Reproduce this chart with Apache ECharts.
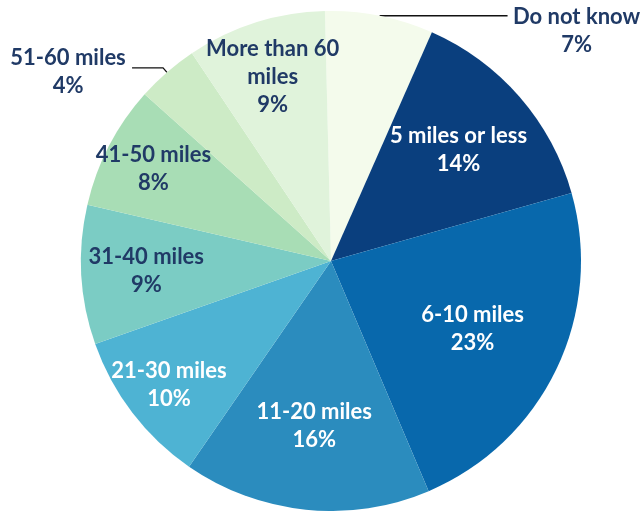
<!DOCTYPE html>
<html>
<head>
<meta charset="utf-8">
<script src="https://cdn.jsdelivr.net/npm/echarts@6/dist/echarts.min.js"></script>
<style>
  html, body { margin: 0; padding: 0; background: #fff; }
  #chart { width: 641px; height: 511px; }
</style>
</head>
<body>
<div id="chart"></div>
<script>
// Distance travelled: share of respondents per band
const categories = ['Do not know', '5 miles or less', '6-10 miles', '11-20 miles', '21-30 miles',
  '31-40 miles', '41-50 miles', '51-60 miles', 'More than 60 miles'];
const shares = [7, 14, 23, 16, 10, 9, 8, 4, 9];
const labelLines = {
  'More than 60 miles': ['More than 60', 'miles']
};

const palette = ['#f4fbec', '#0a3f7e', '#0868ac', '#2b8cbe', '#4eb3d3', '#7bccc4', '#a8ddb5', '#cdebc6', '#e0f3db'];
const lightText = ['5 miles or less', '6-10 miles', '11-20 miles', '21-30 miles'];
const darkInk = '#203a66';
const FONT = 'Lato, "Open Sans", sans-serif';
const FONT_SIZE = 22;
const LINE_HEIGHT = 28;

// outside labels (with leader lines): block width, leader lengths, vertical nudge
const outsideLabels = {
  'Do not know': { width: 128, length: 0, length2: 128, padTop: 30 },
  '51-60 miles': { width: 118, length: 6, length2: 31, padTop: 8 }
};
// inside labels: distance of the label centre from the pie centre
const insideDistance = {
  '5 miles or less': 166, '6-10 miles': 154, '11-20 miles': 163,
  '21-30 miles': 201, '31-40 miles': 182, '41-50 miles': 197, 'More than 60 miles': 190
};

const CENTER = [331, 261];
const RADIUS = 250;
const START = 91.4;

function labelText(name, value) {
  const lines = labelLines[name] || [name];
  return lines.concat([value + '%']);
}

const baseData = categories.map((name, i) => ({ name: name, value: shares[i] }));

const mainSeries = {
  type: 'pie',
  center: CENTER,
  radius: [0, RADIUS],
  startAngle: START,
  clockwise: true,
  silent: true,
  avoidLabelOverlap: false,
  itemStyle: { borderWidth: 0 },
  emphasis: { disabled: true },
  data: baseData.map((d, i) => {
    const cfg = outsideLabels[d.name];
    const item = { name: d.name, value: d.value, itemStyle: { color: palette[i] } };
    if (cfg) {
      item.label = {
        show: true,
        position: 'outside',
        distanceToLabelLine: 5,
        padding: [cfg.padTop, 0, 0, 0],
        formatter: p => labelText(p.name, p.value).map(t => '{c|' + t + '}').join('\n'),
        rich: {
          c: { width: cfg.width, align: 'center', fontFamily: FONT, fontWeight: 'bold',
               fontSize: FONT_SIZE, lineHeight: LINE_HEIGHT, color: darkInk }
        }
      };
      item.labelLine = {
        show: true,
        length: cfg.length,
        length2: cfg.length2,
        smooth: false,
        lineStyle: { color: '#111', width: 1.3 }
      };
    } else {
      item.label = { show: false };
      item.labelLine = { show: false };
    }
    return item;
  })
};

// transparent overlay pies that place the inside labels at chosen radii
const distances = Array.from(new Set(Object.values(insideDistance)));
const labelSeries = distances.map(dist => ({
  type: 'pie',
  center: CENTER,
  radius: [0, dist * 2],
  startAngle: START,
  clockwise: true,
  silent: true,
  avoidLabelOverlap: false,
  emphasis: { disabled: true },
  itemStyle: { color: 'rgba(0,0,0,0)', borderWidth: 0 },
  labelLine: { show: false },
  data: baseData.map(d => ({
    name: d.name,
    value: d.value,
    label: {
      show: insideDistance[d.name] === dist,
      position: 'inside',
      formatter: p => labelText(p.name, p.value).join('\n'),
      fontFamily: FONT,
      fontWeight: 'bold',
      fontSize: FONT_SIZE,
      lineHeight: LINE_HEIGHT,
      align: 'center',
      color: lightText.indexOf(d.name) >= 0 ? '#ffffff' : darkInk
    }
  }))
}));

const chart = echarts.init(document.getElementById('chart'), null, { renderer: 'canvas' });
chart.setOption({
  animation: false,
  backgroundColor: '#ffffff',
  series: [mainSeries].concat(labelSeries)
});
</script>
</body>
</html>
